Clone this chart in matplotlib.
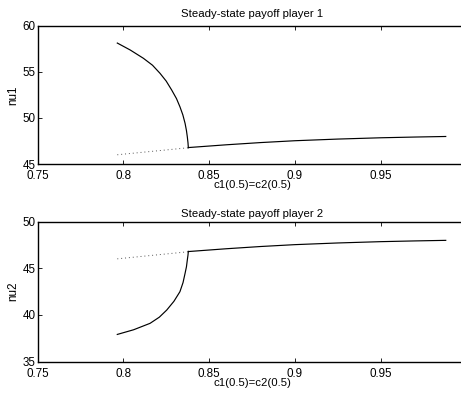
import matplotlib
matplotlib.use("Agg")
import matplotlib.pyplot as plt

plt.rcParams['font.family'] = ['Liberation Sans', 'DejaVu Sans']

# Player 1 — unstable branch (solid curve)
x_branch1 = [0.7965, 0.8040, 0.8117, 0.8170, 0.8214, 0.8250, 0.8282, 0.8310, 0.8330, 0.8347, 0.8360, 0.8368, 0.8373, 0.8377, 0.8379]
nu1_branch = [58.10, 57.35, 56.45, 55.70, 54.82, 53.98, 53.01, 52.08, 51.20, 50.32, 49.40, 48.62, 47.95, 47.30, 46.76]
# Player 2 — unstable branch (solid curve)
x_branch2 = [0.7965, 0.8060, 0.8156, 0.8210, 0.8253, 0.8295, 0.8330, 0.8348, 0.8360, 0.8368, 0.8373, 0.8377, 0.8379]
nu2_branch = [37.90, 38.40, 39.09, 39.75, 40.51, 41.45, 42.48, 43.45, 44.45, 45.15, 45.87, 46.40, 46.80]
# Symmetric branch (dotted part then solid part) — same for both players
x_dotted = [0.7965, 0.8379]
nu_dotted = [46.00, 46.76]
x_solid = [0.8379, 0.8600, 0.8800, 0.9000, 0.9250, 0.9500, 0.9700, 0.9879]
nu_solid = [46.78, 47.08, 47.32, 47.52, 47.70, 47.84, 47.92, 47.98]

W, H = 461, 397
fig = plt.figure(figsize=(W / 100, H / 100), dpi=100)

def make_axes(top_px, bot_px):
    left_px, right_px = 37.5, 466.5
    return fig.add_axes([left_px / W, 1 - bot_px / H, (right_px - left_px) / W, (bot_px - top_px) / H])

ax1 = make_axes(25.5, 164.0)
ax2 = make_axes(221.5, 361.5)

ax1.plot(x_branch1, nu1_branch, color='black', lw=0.85)
ax1.plot(x_solid, nu_solid, color='black', lw=0.85)
ax1.plot(x_dotted, nu_dotted, color='#555555', lw=0.7, ls=(0, (1, 3)))
ax1.set_ylim(45, 60)
ax1.set_yticks([45, 50, 55, 60])
ax1.set_ylabel('nu1', fontsize=8.4, labelpad=2)
ax1.set_title('Steady-state payoff player 1', fontsize=8.2, pad=6)

ax2.plot(x_branch2, nu2_branch, color='black', lw=0.85)
ax2.plot(x_solid, nu_solid, color='black', lw=0.85)
ax2.plot(x_dotted, nu_dotted, color='#555555', lw=0.7, ls=(0, (1, 3)))
ax2.set_ylim(35, 50)
ax2.set_yticks([35, 40, 45, 50])
ax2.set_ylabel('nu2', fontsize=8.4, labelpad=2)
ax2.set_title('Steady-state payoff player 2', fontsize=8.2, pad=3.5)

for ax in (ax1, ax2):
    ax.set_xlim(0.75, 1.0)
    ax.set_xticks([0.75, 0.8, 0.85, 0.9, 0.95])
    ax.set_xticklabels(['0.75', '0.8', '0.85', '0.9', '0.95'])
    ax.set_xlabel('c1(0.5)=c2(0.5)', fontsize=8.2, labelpad=-1.5)
    ax.tick_params(direction='in', top=True, right=True, labelsize=8.4, length=3, width=0.6)
    ax.tick_params(axis='x', pad=4.5)
    ax.tick_params(axis='y', pad=1.5)
    for s in ax.spines.values():
        s.set_linewidth(1.0)

fig.savefig('out.png', dpi=100)
